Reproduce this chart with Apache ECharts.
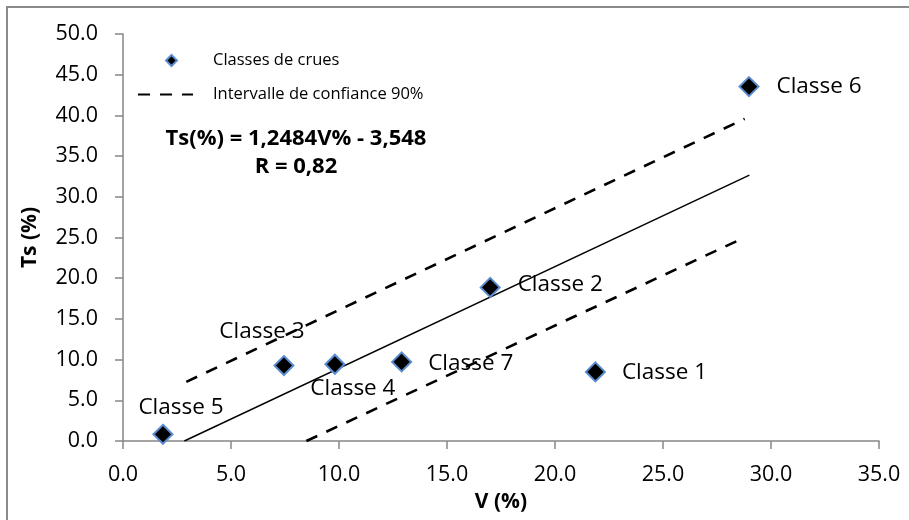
<!DOCTYPE html>
<html>
<head>
<meta charset="utf-8">
<script src="https://cdn.jsdelivr.net/npm/echarts@6/dist/echarts.min.js"></script>
<style>
html,body{margin:0;padding:0;background:#fff;}
#chart{width:909px;height:520px;}
</style>
</head>
<body>
<div id="chart"></div>
<script>
// ---- data ----
const classes = ['Classe 1', 'Classe 2', 'Classe 3', 'Classe 4', 'Classe 5', 'Classe 6', 'Classe 7'];
const vPct    = [21.87, 17.0, 7.45, 9.81, 1.85, 28.98, 12.9];
const tsPct   = [8.49, 18.87, 9.27, 9.43, 0.82, 43.54, 9.72];

const trendX = [2.84, 29.0];
const trendY = [0.0, 32.65];
const upperX = [2.93, 28.78];
const upperY = [7.26, 39.57];
const lowerX = [8.49, 28.78];
const lowerY = [0.0, 25.0];

const xTicks = { min: 0, max: 35, step: 5 };
const yTicks = { min: 0, max: 50, step: 5 };

const equationText = 'Ts(%) = 1,2484V% - 3,548';
const rText = 'R = 0,82';

// ---- presentation ----
const FONT = '"Open Sans", "Noto Sans", sans-serif';
const AXIS_GRAY = '#868686';

const labelPlacement = {
  'Classe 1': { position: 'right', distance: 16, offset: [0, 1] },
  'Classe 2': { position: 'right', distance: 17, offset: [0, -3] },
  'Classe 3': { position: 'inside', offset: [-22, -34] },
  'Classe 4': { position: 'inside', offset: [18, 24] },
  'Classe 5': { position: 'inside', offset: [18, -27] },
  'Classe 6': { position: 'right', distance: 17, offset: [0, 0] },
  'Classe 7': { position: 'right', distance: 16, offset: [0, 2] }
};

const zip = (xs, ys) => xs.map((x, i) => [x, ys[i]]);

const scatterData = classes.map((name, i) => ({
  name: name,
  value: [vPct[i], tsPct[i]],
  label: labelPlacement[name]
}));

const chart = echarts.init(document.getElementById('chart'), null, { renderer: 'canvas' });

const option = {
  animation: false,
  backgroundColor: '#ffffff',
  textStyle: { fontFamily: FONT },
  grid: { left: 123, right: 30, top: 34, bottom: 79, containLabel: false, outerBoundsMode: 'none' },
  legend: [
    {
      data: ['Classes de crues'],
      left: 165, top: 52, padding: 0,
      itemWidth: 11, itemHeight: 11,
      textStyle: { fontFamily: FONT, fontSize: 16.5, color: '#000', padding: [0, 0, 0, 31] }
    },
    {
      data: ['Intervalle de confiance 90%'],
      left: 137, top: 86, padding: 0,
      itemWidth: 55, itemHeight: 14,
      itemStyle: { opacity: 0 },
      textStyle: { fontFamily: FONT, fontSize: 16.5, color: '#000', padding: [0, 0, 0, 15] }
    }
  ],
  xAxis: {
    type: 'value',
    min: xTicks.min, max: xTicks.max, interval: xTicks.step,
    name: 'V (%)', nameLocation: 'middle', nameGap: 51,
    nameTextStyle: { fontFamily: FONT, fontSize: 21, fontWeight: 'bold', color: '#000' },
    axisLine: { show: true, lineStyle: { color: AXIS_GRAY, width: 1.5 } },
    axisTick: { show: true, inside: false, length: 8, lineStyle: { color: AXIS_GRAY, width: 1.5 } },
    axisLabel: { margin: 23, fontFamily: FONT, fontSize: 21.5, color: '#000', formatter: v => v.toFixed(1) },
    splitLine: { show: false }
  },
  yAxis: {
    type: 'value',
    min: yTicks.min, max: yTicks.max, interval: yTicks.step,
    name: 'Ts (%)', nameLocation: 'middle', nameGap: 82,
    nameTextStyle: { fontFamily: FONT, fontSize: 21, fontWeight: 'bold', color: '#000' },
    axisLine: { show: true, lineStyle: { color: AXIS_GRAY, width: 1.5 } },
    axisTick: { show: true, inside: false, length: 8, lineStyle: { color: AXIS_GRAY, width: 1.5 } },
    axisLabel: { margin: 25, fontFamily: FONT, fontSize: 21.5, color: '#000', formatter: v => v.toFixed(1) },
    splitLine: { show: false }
  },
  series: [
    {
      name: 'Régression',
      type: 'line',
      data: zip(trendX, trendY),
      symbol: 'none',
      lineStyle: { color: '#000', width: 1.4 },
      z: 2
    },
    {
      name: 'Intervalle de confiance 90%',
      type: 'line',
      data: zip(upperX, upperY),
      symbol: 'none',
      lineStyle: { color: '#000', width: 2.6, type: [12, 10] },
      itemStyle: { color: '#000' },
      z: 2
    },
    {
      name: 'Borne inférieure',
      type: 'line',
      data: zip(lowerX, lowerY),
      symbol: 'none',
      lineStyle: { color: '#000', width: 2.6, type: [12, 10] },
      z: 2
    },
    {
      name: 'Classes de crues',
      type: 'scatter',
      data: scatterData,
      symbol: 'diamond',
      symbolSize: 19,
      itemStyle: { color: '#000', borderColor: '#5a8ccf', borderWidth: 2, opacity: 1 },
      label: {
        show: true,
        formatter: p => p.name,
        fontFamily: FONT, fontSize: 22.5, color: '#000'
      },
      z: 5
    }
  ],
  graphic: [
    {
      type: 'rect', silent: true, z: -1,
      shape: { x: 7, y: 7, width: 920, height: 530 },
      style: { fill: 'none', stroke: '#8a8a8a', lineWidth: 2 }
    },
    {
      type: 'text', silent: true,
      style: { text: equationText, x: 296, y: 139, align: 'center', verticalAlign: 'middle',
               font: 'bold 22px ' + FONT, fill: '#000' }
    },
    {
      type: 'text', silent: true,
      style: { text: rText, x: 296, y: 167, align: 'center', verticalAlign: 'middle',
               font: 'bold 22px ' + FONT, fill: '#000' }
    }
  ]
};

chart.setOption(option);
</script>
</body>
</html>
